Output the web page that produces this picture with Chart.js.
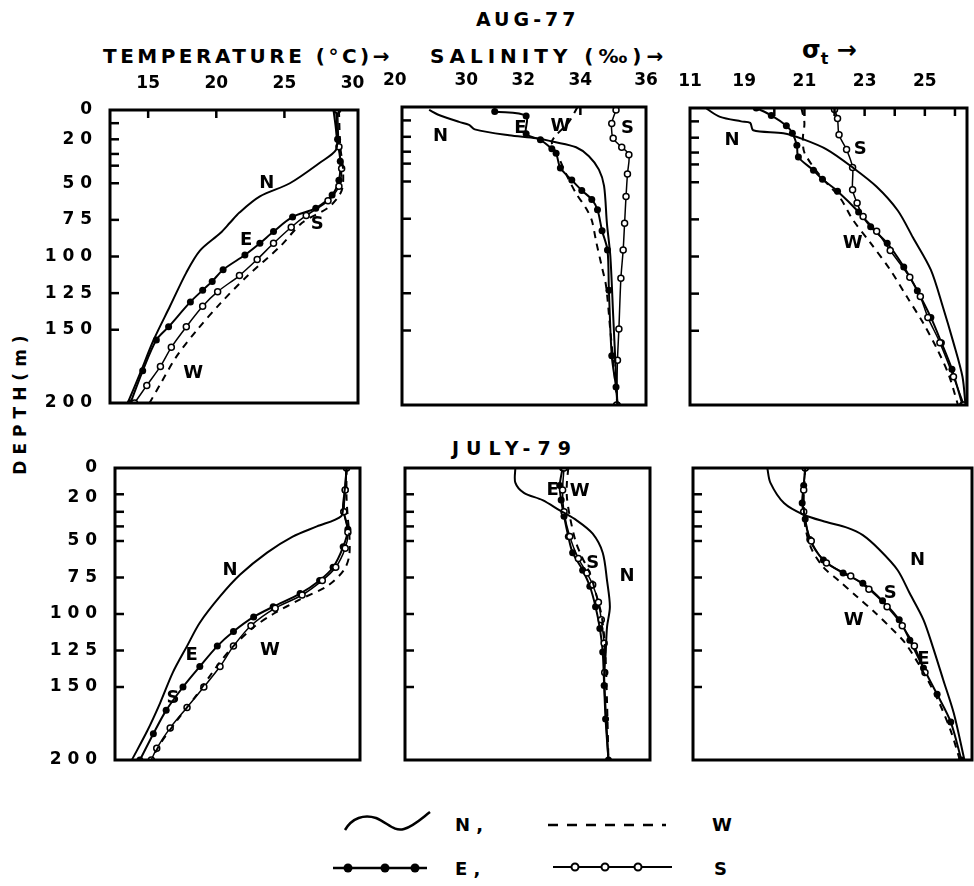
<!DOCTYPE html>
<html>
<head>
<meta charset="utf-8">
<script src="https://cdn.jsdelivr.net/npm/chart.js@4.4.0/dist/chart.umd.min.js"></script>
<style>
  body { margin: 0; background: #fff; }
  #page { position: relative; width: 974px; height: 886px; overflow: hidden;
          font-family: 'DejaVu Sans', sans-serif;
          font-weight: bold; color: #000; }
  .t { position: absolute; white-space: nowrap; }
  canvas { position: absolute; }
</style>
</head>
<body>
<div id="page">
  <div class="t" style="left:476px;top:8px;font-size:19px;letter-spacing:4px">AUG-77</div>
  <div class="t" style="left:103px;top:44px;font-size:20px;letter-spacing:3.5px">TEMPERATURE (°C)→</div>
  <div class="t" style="left:430px;top:44px;font-size:20px;letter-spacing:5px">SALINITY (‰)→</div>
  <div class="t" style="left:802px;top:36px;font-size:24px">σ<sub style="font-size:16px">t</sub> →</div>
  <div class="t" style="left:452px;top:437px;font-size:19px;letter-spacing:7px">JULY-79</div>
  <div class="t" style="left:-60px;top:392px;width:160px;text-align:center;font-size:17px;letter-spacing:6px;transform:rotate(-90deg)">DEPTH(m)</div>

  <canvas id="p1"></canvas>
  <canvas id="p2"></canvas>
  <canvas id="p3"></canvas>
  <canvas id="p4"></canvas>
  <canvas id="p5"></canvas>
  <canvas id="p6"></canvas>

  <svg style="position:absolute;left:300px;top:790px" width="480" height="96">
    <path d="M45,40 C52,28 64,24 76,28 C88,33 94,42 104,39 C114,36 122,28 130,22" fill="none" stroke="#000" stroke-width="2.5"/>
    <line x1="248" y1="35" x2="366" y2="35" stroke="#000" stroke-width="2.5" stroke-dasharray="10 9"/>
    <line x1="33" y1="78" x2="127" y2="78" stroke="#000" stroke-width="2.5"/>
    <circle cx="48" cy="78" r="4.5"/><circle cx="85" cy="78" r="4.5"/><circle cx="115" cy="78" r="4.5"/>
    <line x1="253" y1="77" x2="372" y2="77" stroke="#000" stroke-width="2"/>
    <circle cx="275" cy="77" r="3.5" fill="#fff" stroke="#000" stroke-width="2"/>
    <circle cx="305" cy="77" r="3.5" fill="#fff" stroke="#000" stroke-width="2"/>
    <circle cx="338" cy="77" r="3.5" fill="#fff" stroke="#000" stroke-width="2"/>
    <g font-family="'DejaVu Sans',sans-serif" font-weight="bold" font-size="18">
      <text x="155" y="41">N ,</text>
      <text x="412" y="41">W</text>
      <text x="155" y="85">E ,</text>
      <text x="414" y="85">S</text>
    </g>
  </svg>
</div>

<script>
// depth axis (m)
const depthTicks = [0, 20, 50, 75, 100, 125, 150, 200];
const depthLabels = ['0', '2 0', '5 0', '7 5', '1 0 0', '1 2 5', '1 5 0', '2 0 0'];
const depthMarksTop = [9, 20, 30, 38, 50, 75, 100, 125, 150];
const depthMarksBottom = [18, 30, 40, 50, 75, 100, 125, 150];

// x axes
const tempTicks = [15, 20, 25, 30];
const tempLabels = ['15', '20', '25', '30'];
const salTicks = [27.5, 30, 32, 34, 36.3];
const salLabels = ['20', '30', '32', '34', '36'];
const sigTicks = [17.2, 19, 21, 23, 25];
const sigLabels = ['11', '19', '21', '23', '25'];

// AUG-77, [value, depth]
const augTempN = [[28.6,0],[28.8,15],[28.8,27],[27.6,36],[25.4,50],[23.2,59],[21.7,70],[21.0,77],[20.3,84],[18.8,96],[17.8,111],[16.6,134],[15.4,157],[14.4,180],[13.5,200]];
const augTempE = [[28.8,0],[28.9,20],[29.1,35],[29.0,48],[28.5,58],[27.3,67],[25.6,73],[24.2,83],[23.2,91],[22.1,99],[20.5,109],[19.7,117],[19.0,123],[18.1,131],[16.5,148],[15.6,157],[14.6,178],[13.7,200]];
const augTempS = [[28.9,0],[29.0,25],[29.2,40],[29.0,52],[28.2,62],[26.6,72],[25.5,80],[24.2,91],[23.0,102],[21.7,113],[20.1,124],[19.0,134],[17.8,148],[16.7,162],[15.9,175],[14.9,188],[14.0,200]];
const augTempW = [[29.0,0],[29.1,25],[29.3,40],[29.2,55],[28.3,66],[26.3,77],[24.7,93],[22.2,114],[20.3,132],[18.6,150],[17.1,168],[15.9,187],[15.1,200]];

const augSalN = [[28.7,2],[29.0,5],[29.75,10],[30.1,12],[30.3,15],[31.5,19],[32.45,21],[33.1,23.5],[33.85,27],[34.3,33],[34.65,42],[34.83,53],[34.93,78],[35.05,100],[35.15,140],[35.25,180],[35.3,200]];
const augSalE = [[31.0,3],[32.1,6],[32.1,18],[32.6,22],[33.0,28],[33.15,31],[33.3,41],[33.7,49],[34.05,56],[34.4,62],[34.6,69],[34.76,83],[34.95,96],[35.0,123],[35.1,167],[35.25,188],[35.3,200]];
const augSalS = [[35.25,2],[35.1,11],[35.15,21],[35.45,27],[35.7,32],[35.65,45],[35.6,60],[35.55,78],[35.5,96],[35.42,115],[35.35,149],[35.3,170],[35.27,200]];
const augSalW = [[33.9,0],[33.6,10],[33.1,20],[33.0,24],[33.2,32],[33.5,45],[33.85,58],[34.2,68],[34.4,76],[34.55,90],[34.75,107],[34.9,120],[35.05,150],[35.2,180],[35.3,200]];

const augSigN = [[17.75,0.5],[18.2,6],[18.9,9],[19.2,10],[19.3,15],[20.3,17],[20.95,21],[21.75,28],[22.6,40],[23.4,53],[24.1,69],[24.6,87],[25.2,109],[25.6,134],[25.95,158],[26.25,181],[26.35,200]];
const augSigE = [[19.4,0],[19.9,5],[20.4,12],[20.6,17],[20.75,25],[20.8,33],[21.3,42],[21.6,48],[22.1,56],[22.8,70],[23.2,80],[23.75,91],[24.3,107],[24.75,123],[25.2,141],[25.55,158],[25.9,176],[26.25,200]];
const augSigS = [[22.0,1],[22.1,7],[22.15,18],[22.4,28],[22.6,40],[22.6,55],[22.75,64],[22.95,73],[23.4,83],[23.85,96],[24.5,114],[24.85,127],[25.1,141],[25.5,158],[25.95,181],[26.3,200]];
const augSigW = [[20.9,0],[21.0,10],[20.95,20],[21.0,30],[21.5,45],[22.2,61],[22.6,75],[23.2,91],[23.85,109],[24.4,127],[24.95,145],[25.4,162],[25.8,180],[26.1,200]];

// JULY-79
const julTempN = [[29.4,0],[29.3,12],[29.15,24],[29.0,33],[27.2,40],[25.4,47],[23.5,58],[21.5,73],[20.0,88],[18.5,106],[17.55,122],[16.5,140],[15.55,161],[14.6,180],[13.45,200]];
const julTempE = [[29.4,0],[29.3,15],[29.2,30],[29.5,42],[29.15,54],[28.4,68],[27.4,77],[25.95,86],[23.95,95],[22.5,102],[21.0,112],[19.8,122],[18.5,136],[17.25,150],[16.0,166],[15.05,182],[14.05,200]];
const julTempS = [[29.4,0],[29.3,15],[29.2,30],[29.5,44],[29.3,55],[28.6,68],[27.6,77],[26.1,87],[24.1,96],[22.3,108],[21.0,122],[20.0,136],[18.8,150],[17.55,164],[16.3,178],[15.3,192],[14.9,200]];
const julTempW = [[29.4,0],[29.4,20],[29.5,35],[29.6,44],[29.6,60],[29.2,70],[27.95,81],[25.95,90],[23.95,100],[22.5,109],[21.0,122],[19.75,136],[18.3,155],[16.8,173],[15.55,189],[14.9,200]];

const julSalN = [[31.6,0],[31.6,10],[31.9,17],[32.55,22],[33.15,29],[33.75,36],[34.3,45],[34.65,58],[34.8,77],[34.9,95],[34.8,109],[34.75,128],[34.7,141],[34.75,165],[34.85,200]];
const julSalE = [[33.25,0],[33.15,12],[33.2,22],[33.3,33],[33.45,47],[33.6,58],[33.95,70],[34.2,81],[34.4,95],[34.55,110],[34.65,126],[34.7,149],[34.75,172],[34.85,200]];
const julSalS = [[33.3,0],[33.25,15],[33.3,30],[33.5,47],[33.8,62],[34.1,72],[34.3,80],[34.5,92],[34.6,104],[34.7,120],[34.72,140]];
const julSalW = [[33.45,0],[33.4,10],[33.4,20],[33.5,33],[33.7,50],[33.9,60],[34.2,72],[34.4,85],[34.6,100],[34.7,115],[34.75,130],[34.8,160],[34.85,200]];

const julSigN = [[19.65,0],[19.75,10],[20.2,24],[20.85,32],[21.6,37],[22.3,41],[22.8,46],[23.35,56],[23.95,70],[24.35,86],[24.8,104],[25.1,122],[25.45,145],[25.8,168],[26.15,200]];
const julSigE = [[20.9,0],[20.85,12],[20.8,24],[20.9,35],[21.05,49],[21.5,63],[22.15,72],[22.8,79],[23.45,91],[24.0,104],[24.35,118],[24.8,137],[25.25,155],[25.7,174],[26.05,200]];
const julSigS = [[20.9,0],[20.85,15],[20.85,30],[21.1,50],[21.6,65],[22.4,74],[23.0,83],[23.6,95],[24.1,108],[24.5,122],[24.85,140]];
const julSigW = [[20.9,0],[20.85,20],[20.9,40],[21.1,55],[21.5,68],[22.0,77],[22.6,88],[23.2,99],[23.7,109],[24.2,120],[24.8,140],[25.3,160],[25.7,180],[26.0,200]];

// series letters written inside the panels: [text, value, depth]
const augTempTags = [['N',23.7,50],['E',22.2,89],['S',27.4,78],['W',18.3,180]];
const augSalTags = [['N',29.1,20],['E',31.9,14],['W',33.3,13],['S',35.65,14]];
const augSigTags = [['N',18.6,22],['S',22.85,28],['W',22.6,91]];
const julTempTags = [['N',20.75,70],['E',17.9,128],['W',23.7,125],['S',16.5,158]];
const julSalTags = [['E',32.9,15],['W',33.85,16],['S',34.3,65],['N',35.5,74]];
const julSigTags = [['N',24.6,63],['S',23.7,86],['W',22.5,104],['E',24.8,131]];

const FONT = "'DejaVu Sans',sans-serif";

const framePlugin = {
  id: 'frame',
  afterDatasetsDraw(chart, args, o) {
    const { ctx, chartArea: a, scales: { x, y } } = chart;
    ctx.save();
    ctx.strokeStyle = '#000';
    ctx.lineWidth = 2.5;
    (o.yMarks || []).forEach(d => {
      const py = y.getPixelForValue(d);
      ctx.beginPath(); ctx.moveTo(a.left, py); ctx.lineTo(a.left + 9, py); ctx.stroke();
    });
    (o.xMarks || []).forEach(v => {
      const px = x.getPixelForValue(v);
      ctx.beginPath(); ctx.moveTo(px, a.top); ctx.lineTo(px, a.top + 8); ctx.stroke();
    });
    ctx.lineWidth = 3;
    ctx.strokeRect(a.left, a.top, a.width, a.height);
    ctx.fillStyle = '#000';
    ctx.font = 'bold 18px ' + FONT;
    ctx.textAlign = 'center';
    ctx.textBaseline = 'middle';
    (o.tags || []).forEach(t => ctx.fillText(t[0], x.getPixelForValue(t[1]), y.getPixelForValue(t[2])));
    ctx.restore();
  }
};

const toXY = arr => arr.map(p => ({ x: p[0], y: p[1] }));

function makePanel(id, box, cfg) {
  const ml = cfg.ml, mt = cfg.mt, mr = cfg.mr || 6;
  const cv = document.getElementById(id);
  cv.width = ml + box.w + mr;
  cv.height = mt + box.h + 6;
  cv.style.left = (box.l - ml) + 'px';
  cv.style.top = (box.t - mt) + 'px';

  new Chart(cv.getContext('2d'), {
    type: 'scatter',
    data: {
      datasets: [
        { data: toXY(cfg.N), showLine: true, borderColor: '#000', borderWidth: 2, pointRadius: 0, tension: 0.3 },
        { data: toXY(cfg.W), showLine: true, borderColor: '#000', borderWidth: 2, borderDash: [7, 6], pointRadius: 0, tension: 0.3 },
        { data: toXY(cfg.S), showLine: true, borderColor: '#000', borderWidth: 1.5, pointRadius: 3,
          pointBackgroundColor: '#fff', pointBorderColor: '#000', pointBorderWidth: 1.5, tension: 0.3 },
        { data: toXY(cfg.E), showLine: true, borderColor: '#000', borderWidth: 2, pointRadius: 3.5,
          pointBackgroundColor: '#000', pointBorderWidth: 0, tension: 0.3 },
      ]
    },
    options: {
      responsive: false,
      animation: false,
      layout: { padding: { left: 0, top: 0, right: mr, bottom: 6 } },
      plugins: {
        legend: { display: false },
        tooltip: { enabled: false },
        frame: { yMarks: cfg.yMarks, xMarks: cfg.xMarks, tags: cfg.tags },
      },
      scales: {
        x: {
          type: 'linear', position: 'top', min: cfg.xMin, max: cfg.xMax,
          grid: { display: false }, border: { display: false },
          afterBuildTicks: s => { s.ticks = cfg.xTicks.map(v => ({ value: v })); },
          afterFit: s => { s.height = mt; s.paddingLeft = 0; s.paddingRight = 0; },
          ticks: {
            display: cfg.showX, autoSkip: false, maxRotation: 0, padding: 8, color: '#000',
            font: { family: FONT, size: 17, weight: 'bold' },
            callback: (v, i) => cfg.xLabels[i]
          }
        },
        y: {
          type: 'linear', position: 'left', reverse: true, min: 0, max: 200,
          grid: { display: false }, border: { display: false },
          afterBuildTicks: s => { s.ticks = depthTicks.map(v => ({ value: v })); },
          afterFit: s => { s.width = ml; s.paddingTop = 0; s.paddingBottom = 0; },
          ticks: {
            display: cfg.showY, autoSkip: false, padding: 10, color: '#000',
            font: { family: FONT, size: 17, weight: 'bold' },
            callback: (v, i) => depthLabels[i]
          }
        }
      }
    },
    plugins: [framePlugin]
  });
}

makePanel('p1', { l: 110, t: 110, w: 248, h: 293 }, {
  ml: 110, mt: 38, showX: true, showY: true, xMin: 12.2, xMax: 30.4,
  xTicks: tempTicks, xLabels: tempLabels, xMarks: [15, 20, 25], yMarks: depthMarksTop,
  N: augTempN, E: augTempE, S: augTempS, W: augTempW, tags: augTempTags
});
makePanel('p2', { l: 402, t: 107, w: 244, h: 298 }, {
  ml: 24, mr: 16, mt: 35, showX: true, showY: false, xMin: 27.75, xMax: 36.3,
  xTicks: salTicks, xLabels: salLabels, xMarks: [34], yMarks: depthMarksTop,
  N: augSalN, E: augSalE, S: augSalS, W: augSalW, tags: augSalTags
});
makePanel('p3', { l: 690, t: 108, w: 277, h: 297 }, {
  ml: 16, mt: 36, showX: true, showY: false, xMin: 17.2, xMax: 26.4,
  xTicks: sigTicks, xLabels: sigLabels, xMarks: [20, 21, 22, 23, 24, 25, 26], yMarks: depthMarksTop,
  N: augSigN, E: augSigE, S: augSigS, W: augSigW, tags: augSigTags
});
makePanel('p4', { l: 115, t: 468, w: 245, h: 292 }, {
  ml: 115, mt: 12, showX: false, showY: true, xMin: 12.2, xMax: 30.4,
  xTicks: tempTicks, xLabels: tempLabels, xMarks: [], yMarks: depthMarksBottom,
  N: julTempN, E: julTempE, S: julTempS, W: julTempW, tags: julTempTags
});
makePanel('p5', { l: 405, t: 468, w: 245, h: 292 }, {
  ml: 10, mt: 12, showX: false, showY: false, xMin: 27.75, xMax: 36.3,
  xTicks: salTicks, xLabels: salLabels, xMarks: [], yMarks: depthMarksBottom,
  N: julSalN, E: julSalE, S: julSalS, W: julSalW, tags: julSalTags
});
makePanel('p6', { l: 693, t: 468, w: 279, h: 292 }, {
  ml: 10, mt: 12, showX: false, showY: false, xMin: 17.2, xMax: 26.4,
  xTicks: sigTicks, xLabels: sigLabels, xMarks: [], yMarks: depthMarksBottom,
  N: julSigN, E: julSigE, S: julSigS, W: julSigW, tags: julSigTags
});
</script>
</body>
</html>
